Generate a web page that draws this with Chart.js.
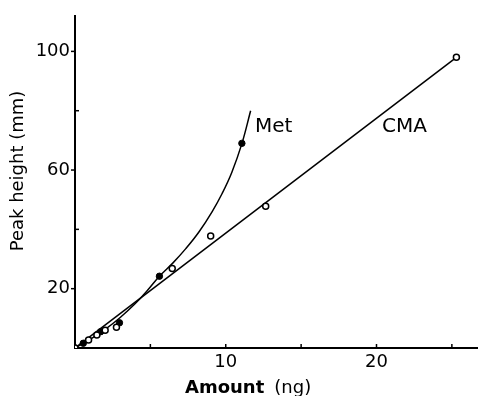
<!DOCTYPE html>
<html>
<head>
<meta charset="utf-8">
<script src="https://cdn.jsdelivr.net/npm/chart.js@4/dist/chart.umd.min.js"></script>
<style>
html,body{margin:0;padding:0;background:#fff;}
canvas{display:block;}
</style>
</head>
<body>
<canvas id="c" width="483" height="396"></canvas>
<script>
// Data
const cmaX = [0, 0.9, 1.45, 2.0, 2.75, 6.45, 9.0, 12.65, 25.3];
const cmaY = [0, 2.7, 4.4, 6.0, 7.0, 26.8, 37.8, 47.8, 98];
const metX = [0, 0.55, 1.7, 2.95, 5.6, 11.07];
const metY = [0, 1.6, 5.5, 8.5, 24.2, 69];
// fitted lines
const cmaLineX = [0, 25.3];
const cmaLineY = [0, 98];
const metCurveX = [0, 1, 2, 3, 4, 4.8, 5.6, 6.5, 7.35, 8.22, 9.1, 9.76, 10.4, 11.07, 11.65];
const metCurveY = [0, 2.9, 6.3, 10.3, 15.0, 19.4, 24.2, 28.7, 33.5, 39.1, 46.0, 52.1, 59.2, 68.9, 80.0];
const xTickLabels = [10, 20];
const yTickLabels = [20, 60, 100];
const xTicks = [5, 10, 15, 20, 25];
const yTicks = [20, 40, 60, 80, 100];
const seriesNames = ['Met', 'CMA'];

const pts = (xs, ys) => xs.map((x, i) => ({x: x, y: ys[i]}));
const FONT = '"DejaVu Sans", sans-serif';

const decor = {
  id: 'decor',
  afterDraw(chart) {
    const ctx = chart.ctx;
    const xs = chart.scales.x, ys = chart.scales.y;
    const x0 = xs.getPixelForValue(0), y0 = ys.getPixelForValue(0);
    ctx.save();
    ctx.strokeStyle = '#000';
    ctx.lineWidth = 1.5;
    xTicks.forEach(v => {
      const px = xs.getPixelForValue(v);
      ctx.beginPath(); ctx.moveTo(px, y0); ctx.lineTo(px, y0 - 4); ctx.stroke();
    });
    yTicks.forEach(v => {
      const py = ys.getPixelForValue(v);
      ctx.beginPath();
      if (yTickLabels.includes(v)) { ctx.moveTo(x0 - 4, py); ctx.lineTo(x0, py); }
      else { ctx.moveTo(x0, py); ctx.lineTo(x0 + 4, py); }
      ctx.stroke();
    });
    ctx.fillStyle = '#000';
    ctx.font = '20px ' + FONT;
    ctx.textBaseline = 'middle';
    ctx.textAlign = 'left';
    ctx.fillText(seriesNames[0], 255, 127);
    ctx.fillText(seriesNames[1], 382, 127);
    ctx.textBaseline = 'alphabetic';
    ctx.font = 'bold 18px ' + FONT;
    const t1 = 'Amount';
    ctx.fillText(t1, 185, 393);
    const w1 = ctx.measureText(t1).width;
    ctx.font = '18px ' + FONT;
    ctx.fillText('(ng)', 185 + w1 + 10, 393);
    ctx.translate(18, 171);
    ctx.rotate(-Math.PI / 2);
    ctx.textAlign = 'center';
    ctx.textBaseline = 'middle';
    ctx.font = '18px ' + FONT;
    ctx.fillText('Peak height (mm)', 0, 0);
    ctx.restore();
  }
};

new Chart(document.getElementById('c'), {
  type: 'scatter',
  data: {
    datasets: [
      {label: 'CMA', data: pts(cmaX, cmaY), pointRadius: 3, pointBackgroundColor: '#fff',
       pointBorderColor: '#000', pointBorderWidth: 1.5, showLine: false, order: 0},
      {label: 'Met', data: pts(metX, metY), pointRadius: 3.2, pointBackgroundColor: '#000',
       pointBorderColor: '#000', pointBorderWidth: 1, showLine: false, order: 0},
      {label: 'CMA fit', data: pts(cmaLineX, cmaLineY), showLine: true, pointRadius: 0,
       borderColor: '#000', borderWidth: 1.5, order: 1},
      {label: 'Met fit', data: pts(metCurveX, metCurveY), showLine: true, pointRadius: 0,
       borderColor: '#000', borderWidth: 1.5, tension: 0.4, order: 1}
    ]
  },
  options: {
    responsive: false,
    animation: false,
    devicePixelRatio: 1,
    layout: {padding: {top: 14, right: 2, left: 0, bottom: 0}},
    plugins: {legend: {display: false}, tooltip: {enabled: false}},
    scales: {
      x: {
        type: 'linear', min: 0, max: 26.7,
        afterFit: s => { s.height = 48; },
        grid: {display: true, drawOnChartArea: false, drawTicks: false},
        border: {display: true, color: '#000', width: 2},
        ticks: {
          stepSize: 5, padding: 4, color: '#000', maxRotation: 0, autoSkip: false,
          font: {family: FONT, size: 18},
          callback: v => xTickLabels.includes(v) ? String(v) : ''
        }
      },
      y: {
        type: 'linear', min: 0, max: 112,
        afterFit: s => { s.width = 75; },
        grid: {display: true, drawOnChartArea: false, drawTicks: false},
        border: {display: true, color: '#000', width: 2},
        ticks: {
          stepSize: 20, padding: 5, color: '#000', autoSkip: false,
          font: {family: FONT, size: 18},
          callback: v => yTickLabels.includes(v) ? String(v) : ''
        }
      }
    }
  },
  plugins: [decor]
});
</script>
</body>
</html>
